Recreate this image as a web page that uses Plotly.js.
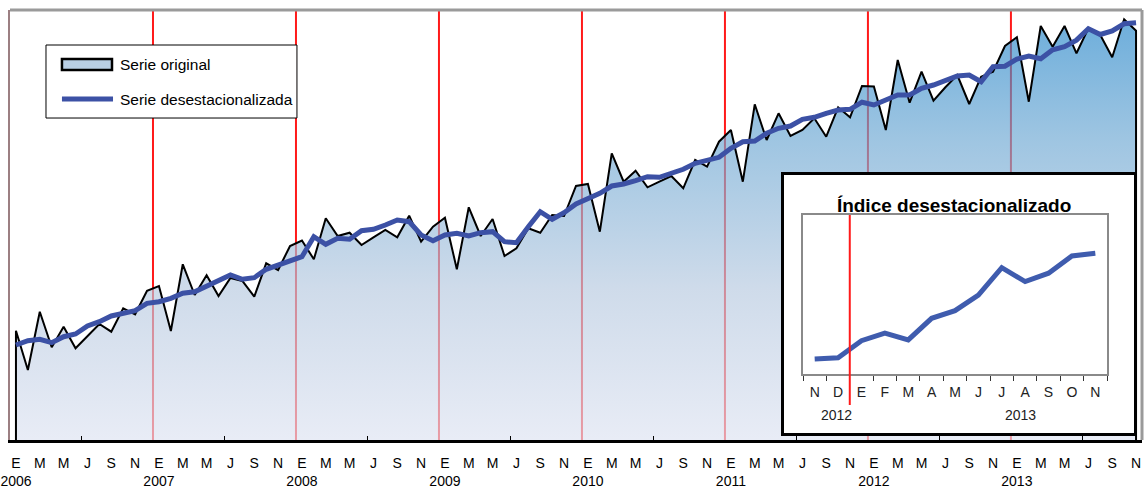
<!DOCTYPE html>
<html><head><meta charset="utf-8">
<script src="https://cdn.plot.ly/plotly-3.0.1.min.js"></script>
<style>
html,body{margin:0;padding:0;background:#fff;}
#main{position:absolute;left:0;top:0;width:1144px;height:495px;}
#inset{position:absolute;left:781px;top:172px;width:356px;height:264px;box-sizing:border-box;border:3px solid #000;background:#fff;}
#insetPlot{width:350px;height:258px;}
</style></head><body>
<div id="main"></div>
<div id="inset"><div id="insetPlot"></div></div>
<script>
// ---- data ----
const anios = [2006, 2007, 2008, 2009, 2010, 2011, 2012, 2013];
const mesesLetra = ['E','F','M','A','M','J','J','A','S','O','N','D'];
// monthly values, Jan 2006 .. Nov 2013 (index units)
const serieOriginal = [
 109.3, 70, 128.3, 92.7, 113.3, 91.7, 104, 116, 108.3, 131.7, 125.7, 149.3,
 154, 109, 175.7, 145, 164.7, 144, 162, 159, 143.3, 176.7, 170, 194,
 199.5, 180.7, 221.7, 204, 207.3, 195, 202.7, 210, 202.7, 224.3, 198.3, 213.3,
 222.3, 170.7, 232.7, 204, 221, 184, 191.7, 211.7, 207.3, 225, 224, 254,
 256, 208.3, 286.7, 258.3, 269.3, 252.7, 258.3, 264, 251.7, 280, 273.3, 298.3,
 310, 258.3, 335.7, 300, 326.7, 304, 310, 321.7, 303.3, 332.7, 322.7, 354,
 353.5, 310, 380, 337.3, 368.3, 339.3, 352.7, 365, 336, 363.3, 368.3, 394,
 402.7, 338.3, 414, 393.3, 414, 386.7, 411.7, 405, 382.7, 420.7, 409.3
];
const serieDesestacionalizada = [
 95, 99.3, 100.7, 97.3, 103.3, 106, 114, 118.3, 124, 126.7, 129.3, 136.7,
 138.3, 141.7, 146.7, 148.3, 154, 159.3, 165, 160.7, 162.3, 170.7, 175, 178.3,
 183.3, 203.3, 195.7, 201.7, 200.7, 209.3, 210.7, 215, 220, 218.3, 205, 199.3,
 205, 206.7, 204, 207.3, 208.3, 198.3, 197.3, 213.3, 228.3, 220.7, 227.3, 236,
 241.5, 246.7, 254, 256, 259.3, 263.3, 262.7, 266.7, 270.7, 276.7, 280, 282.7,
 291.7, 298.3, 299, 306.7, 311.7, 314, 320.7, 322.7, 326.7, 330, 330.7, 337.8,
 335, 340, 345, 345, 351.7, 355, 359.3, 364, 365, 358.3, 373.3, 373.8,
 380.9, 384, 381.2, 390.2, 393.4, 399.9, 411.3, 405.5, 409, 416.2, 417.3
];
const insetMeses = ['N','D','E','F','M','A','M','J','J','A','S','O','N'];
const insetAnios = ['2012', '2013'];
const insetTitulo = 'Índice desestacionalizado';
const nombres = ['Serie original', 'Serie desestacionalizada'];

// ---- derived ----
const n = serieOriginal.length;
const idx = serieOriginal.map((_, i) => i);
const tickvals = [], ticktext = [];
for (let i = 0; i < n; i += 2) {
  const m = i % 12, y = anios[Math.floor(i / 12)];
  tickvals.push(i);
  ticktext.push(m === 0 ? mesesLetra[m] + '<br>' + y : mesesLetra[m]);
}
const midYear = anios.map((_, k) => k * 12 + 5.5).filter(v => v < n);
const yearBreaks = anios.slice(1).map((_, k) => (k + 1) * 12 - 0.5);

const SANS = "'Liberation Sans', Arial, sans-serif";
const BLUE = '#3c51a5';

// area outline closes to the baseline at both ends
const areaX = [idx[0]].concat(idx, [idx[n - 1]]);
const areaY = [0].concat(serieOriginal, [0]);

const traces = [
  {
    x: areaX, y: areaY, type: 'scatter', mode: 'lines', name: nombres[0],
    fill: 'tozeroy',
    fillgradient: {
      type: 'vertical', start: 0, stop: 430,
      colorscale: [
        [0, 'rgba(220,226,241,0.65)'],
        [0.35, 'rgba(181,200,223,0.65)'],
        [0.7, 'rgba(106,166,210,0.65)'],
        [1, 'rgba(24,127,199,0.65)']
      ]
    },
    line: {color: '#000', width: 2}, hoverinfo: 'skip', showlegend: false
  },
  {
    x: idx, y: serieDesestacionalizada, type: 'scatter', mode: 'lines', name: nombres[1],
    line: {color: BLUE, width: 5}, hoverinfo: 'skip', showlegend: false
  }
];

const shapes = yearBreaks.map(x => ({
  type: 'line', xref: 'x', yref: 'paper', x0: x, x1: x, y0: 0, y1: 1,
  layer: 'below', line: {color: '#ff1a1a', width: 2}
}));
shapes.push({type: 'line', xref: 'paper', yref: 'paper', x0: 0, x1: 1, y0: 1, y1: 1, line: {color: '#9a9a9a', width: 3}});
shapes.push({type: 'line', xref: 'paper', yref: 'paper', x0: 1, x1: 1, y0: 0, y1: 1, line: {color: '#9a9a9a', width: 3}});
// legend box (paper coordinates)
shapes.push({type: 'rect', xref: 'paper', yref: 'paper', x0: 0.0318, x1: 0.2535, y0: 0.7488, y1: 0.9186,
  fillcolor: '#fff', line: {color: '#000', width: 1}});
shapes.push({type: 'rect', xref: 'paper', yref: 'paper', x0: 0.0459, x1: 0.0901, y0: 0.8605, y1: 0.8860,
  fillcolor: '#b9cfe4', line: {color: '#000', width: 2.5}});
shapes.push({type: 'line', xref: 'paper', yref: 'paper', x0: 0.0459, x1: 0.0910, y0: 0.7930, y1: 0.7930,
  line: {color: BLUE, width: 5}});

const layout = {
  width: 1144, height: 495,
  margin: {l: 10, r: 2, t: 10, b: 55},
  paper_bgcolor: '#fff', plot_bgcolor: '#fff',
  showlegend: false,
  xaxis: {
    range: [-0.5, n - 0.5], tickvals: tickvals, ticktext: ticktext, ticks: '', tickangle: 0,
    ticklabeloverflow: 'allow',
    showgrid: false, zeroline: false, showline: true, linecolor: '#000', linewidth: 3,
    tickfont: {family: SANS, size: 14, color: '#000'}, ticklabelstandoff: 8,
    minor: {tickvals: midYear, ticks: 'inside', ticklen: 4, tickcolor: '#000', tickwidth: 1, showgrid: false}
  },
  yaxis: {
    range: [0, 430], showticklabels: false, ticks: '', showgrid: false, zeroline: false,
    showline: true, linecolor: '#9c7f82', linewidth: 2
  },
  shapes: shapes,
  annotations: [
    {text: nombres[0], xref: 'paper', yref: 'paper', x: 0.0954, y: 0.8744, xanchor: 'left', yanchor: 'middle',
     showarrow: false, font: {family: SANS, size: 15.5, color: '#000'}},
    {text: nombres[1], xref: 'paper', yref: 'paper', x: 0.0954, y: 0.7930, xanchor: 'left', yanchor: 'middle',
     showarrow: false, font: {family: SANS, size: 15.5, color: '#000'}}
  ]
};

Plotly.newPlot('main', traces, layout, {staticPlot: true});

// ---- inset ----
const insetIdx = insetMeses.map((_, i) => i);
const insetValores = serieDesestacionalizada.slice(-insetMeses.length);
const insetLayout = {
  width: 350, height: 258,
  margin: {l: 19, r: 27, t: 40, b: 59},
  paper_bgcolor: '#fff', plot_bgcolor: '#fff', showlegend: false,
  title: {
    text: insetTitulo, font: {family: SANS, size: 19, color: '#000', weight: 'bold'},
    x: 0.486, xref: 'container', xanchor: 'center', y: 0.884, yref: 'container', yanchor: 'middle'
  },
  xaxis: {
    range: [-0.5, insetMeses.length - 0.5], tickvals: insetIdx, ticktext: insetMeses, ticks: '', tickangle: 0,
    showline: true, mirror: true, linecolor: '#8a8a8a', linewidth: 2, showgrid: false, zeroline: false,
    tickfont: {family: SANS, size: 14, color: '#222'}, ticklabelstandoff: 4,
    minor: {tickvals: insetIdx.concat([insetMeses.length]).map(v => v - 0.5), ticks: 'outside', ticklen: 5, tickcolor: '#333', tickwidth: 1, showgrid: false}
  },
  yaxis: {
    range: [367, 433.25], showticklabels: false, ticks: '', showline: true, mirror: true,
    linecolor: '#8a8a8a', linewidth: 2, showgrid: false, zeroline: false
  },
  shapes: [{type: 'line', xref: 'x', yref: 'paper', x0: 1.5, x1: 1.5, y0: -0.195, y1: 1, line: {color: '#ff1a1a', width: 2}}],
  annotations: [
    {text: insetAnios[0], x: 0.93, xref: 'x', y: -0.258, yref: 'paper', yanchor: 'middle', showarrow: false, font: {family: SANS, size: 14, color: '#222'}},
    {text: insetAnios[1], x: 8.8, xref: 'x', y: -0.258, yref: 'paper', yanchor: 'middle', showarrow: false, font: {family: SANS, size: 14, color: '#222'}}
  ]
};
Plotly.newPlot('insetPlot', [{
  x: insetIdx, y: insetValores, type: 'scatter', mode: 'lines',
  line: {color: '#3f5cae', width: 5}, hoverinfo: 'skip'
}], insetLayout, {staticPlot: true});
</script>
</body></html>
